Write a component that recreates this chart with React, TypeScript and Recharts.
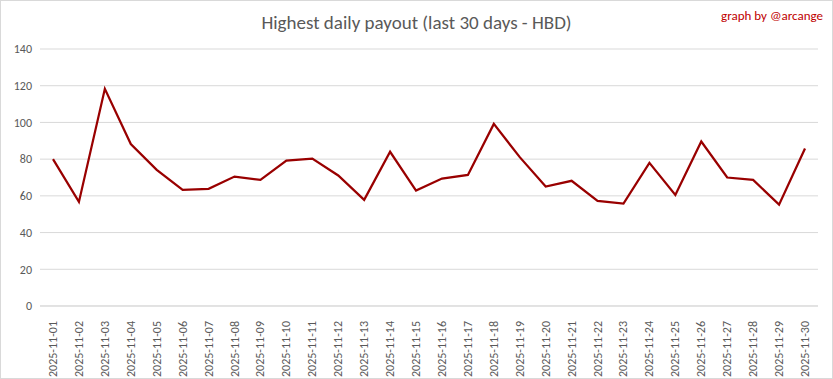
import { LineChart, Line, XAxis, YAxis, CartesianGrid } from 'recharts';

const days = [
  '2025-11-01', '2025-11-02', '2025-11-03', '2025-11-04', '2025-11-05', '2025-11-06',
  '2025-11-07', '2025-11-08', '2025-11-09', '2025-11-10', '2025-11-11', '2025-11-12',
  '2025-11-13', '2025-11-14', '2025-11-15', '2025-11-16', '2025-11-17', '2025-11-18',
  '2025-11-19', '2025-11-20', '2025-11-21', '2025-11-22', '2025-11-23', '2025-11-24',
  '2025-11-25', '2025-11-26', '2025-11-27', '2025-11-28', '2025-11-29', '2025-11-30',
];

const payout = [
  80.0, 56.7, 118.3, 88.2, 74.2, 63.2,
  63.8, 70.5, 68.7, 79.2, 80.3, 71.1,
  57.8, 84.0, 62.9, 69.4, 71.4, 99.2,
  81.1, 65.1, 68.2, 57.3, 55.8, 78.0,
  60.5, 89.6, 70.0, 68.7, 55.2, 85.8,
];

const yTicks = [0, 20, 40, 60, 80, 100, 120, 140];

const data = days.map((day, i) => ({ day, value: payout[i] }));

const font = 'Calibri, Carlito, "Liberation Sans", sans-serif';

const DateTick = (props: any) => {
  const { x, y, payload } = props;
  return (
    <text
      x={x}
      y={y}
      transform={`rotate(-90 ${x} ${y})`}
      dx={-7}
      dy={4}
      textAnchor="end"
      fill="#595959"
      fontSize={12}
      fontFamily={font}
    >
      {payload.value}
    </text>
  );
};

export default function App() {
  return (
    <div style={{ position: 'absolute', left: 0, top: 0, width: 833, height: 379, background: '#fff' }}>
      <div
        style={{
          position: 'absolute', left: 0, top: 0, width: 831, height: 377,
          border: '1px solid #d9d9d9',
        }}
      />
      <div
        style={{
          position: 'absolute', left: 0, top: 11, width: 833, textAlign: 'center',
          fontFamily: font, fontSize: 19, fontWeight: 300, color: '#595959',
        }}
      >
        Highest daily payout (last 30 days - HBD)
      </div>
      <div
        style={{
          position: 'absolute', right: 10, top: 8, fontFamily: font,
          fontSize: 13, color: '#c00000',
        }}
      >
        graph by @arcange
      </div>
      <LineChart
        width={833}
        height={379}
        data={data}
        margin={{ top: 49, right: 15, left: 0, bottom: 8 }}
      >
        <CartesianGrid vertical={false} stroke="#d9d9d9" />
        <XAxis
          dataKey="day"
          interval={0}
          padding={{ left: 13, right: 13 }}
          tickLine={false}
          axisLine={{ stroke: '#d9d9d9' }}
          height={65}
          tick={<DateTick />}
        />
        <YAxis
          domain={[0, 140]}
          ticks={yTicks}
          width={40}
          tickLine={false}
          axisLine={false}
          tick={{ fill: '#595959', fontSize: 12, fontFamily: font }}
        />
        <Line
          type="linear"
          dataKey="value"
          stroke="#990000"
          strokeWidth={2.25}
          dot={false}
          isAnimationActive={false}
        />
      </LineChart>
    </div>
  );
}
